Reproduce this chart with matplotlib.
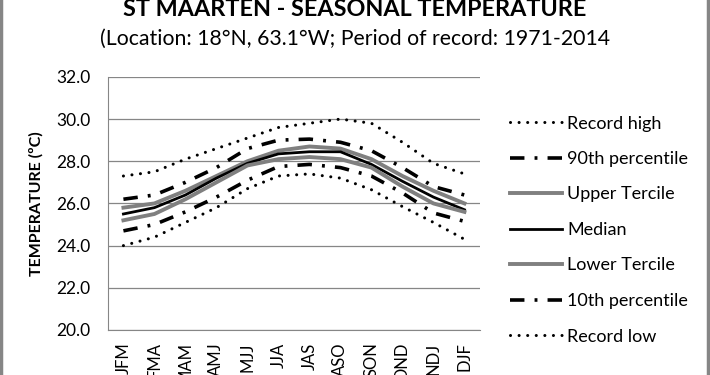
import matplotlib
matplotlib.use("Agg")
import matplotlib.pyplot as plt
from matplotlib.lines import Line2D

plt.rcParams['font.family'] = ['Lato', 'DejaVu Sans']

seasons = ["JFM", "FMA", "MAM", "AMJ", "MJJ", "JJA", "JAS", "ASO", "SON", "OND", "NDJ", "DJF"]

record_high = [27.3, 27.5, 28.1, 28.6, 29.1, 29.6, 29.8, 30.0, 29.8, 28.9, 27.9, 27.4]
pct_90 = [26.2, 26.4, 27.0, 27.7, 28.6, 29.0, 29.05, 28.9, 28.5, 27.7, 26.8, 26.4]
upper_tercile = [25.8, 26.0, 26.6, 27.3, 28.0, 28.5, 28.7, 28.6, 28.1, 27.3, 26.6, 26.0]
median = [25.5, 25.8, 26.4, 27.2, 27.9, 28.35, 28.45, 28.45, 27.85, 27.05, 26.3, 25.7]
lower_tercile = [25.2, 25.5, 26.2, 27.0, 27.8, 28.1, 28.2, 28.1, 27.7, 26.8, 26.0, 25.6]
pct_10 = [24.7, 25.0, 25.6, 26.3, 27.1, 27.75, 27.85, 27.7, 27.3, 26.5, 25.55, 25.15]
record_low = [24.0, 24.4, 25.1, 25.8, 26.7, 27.3, 27.4, 27.2, 26.65, 25.85, 25.1, 24.3]

yticks = [20, 22, 24, 26, 28, 30, 32]

fig = plt.figure(figsize=(7.1, 3.75), dpi=100)
ax = fig.add_axes([0.152, 0.12, 0.524, 0.675])

x = range(len(seasons))
dot = (0, (0.01, 2.8))
dashdot = (0, (4.0, 2.8, 0.8, 2.8))

ax.plot(x, record_high, color='black', lw=2.2, linestyle=dot, dash_capstyle='round', label='Record high')
ax.plot(x, pct_90, color='black', lw=2.6, linestyle=dashdot, label='90th percentile')
ax.plot(x, upper_tercile, color='#808080', lw=2.8, label='Upper Tercile')
ax.plot(x, median, color='black', lw=2.0, label='Median')
ax.plot(x, lower_tercile, color='#808080', lw=2.8, label='Lower Tercile')
ax.plot(x, pct_10, color='black', lw=2.6, linestyle=dashdot, label='10th percentile')
ax.plot(x, record_low, color='black', lw=2.2, linestyle=dot, dash_capstyle='round', label='Record low')

ax.set_xlim(-0.5, len(seasons) - 0.5)
ax.set_ylim(20, 32)
ax.set_yticks(yticks)
ax.set_yticklabels([f"{v:.1f}" for v in yticks], fontsize=12.5)
ax.set_xticks(list(x))
ax.set_xticklabels(seasons, rotation=90, fontsize=12)
ax.tick_params(axis='y', length=0, pad=12.5)
ax.tick_params(axis='x', length=0, pad=9)
ax.grid(axis='y', color='#868686', lw=0.9)
ax.set_axisbelow(True)
for s in ['top', 'right']:
    ax.spines[s].set_visible(False)
for s in ['left', 'bottom']:
    ax.spines[s].set_color('#868686')
ax.set_ylabel('TEMPERATURE (ºC)', fontsize=11.5, fontweight='bold', labelpad=9)

fig.legend(*ax.get_legend_handles_labels(), loc='upper left', bbox_to_anchor=(0.718, 0.692),
           frameon=False, fontsize=13, handlelength=2.9, handletextpad=0.28,
           labelspacing=1.08, borderpad=0, borderaxespad=0)

fig.text(0.5, 0.957, 'ST MAARTEN - SEASONAL TEMPERATURE', ha='center', va='baseline',
         fontsize=16.8, fontweight='bold')
fig.text(0.5, 0.88, '(Location: 18°N, 63.1°W; Period of record: 1971-2014', ha='center',
         va='baseline', fontsize=15.3)

# grey frame edges left and right
fig.add_artist(Line2D([0.002, 0.002], [0, 1], transform=fig.transFigure, color='#868686', lw=2.5))
fig.add_artist(Line2D([0.997, 0.997], [0, 1], transform=fig.transFigure, color='#868686', lw=2.5))

fig.savefig('out.png', dpi=100)
